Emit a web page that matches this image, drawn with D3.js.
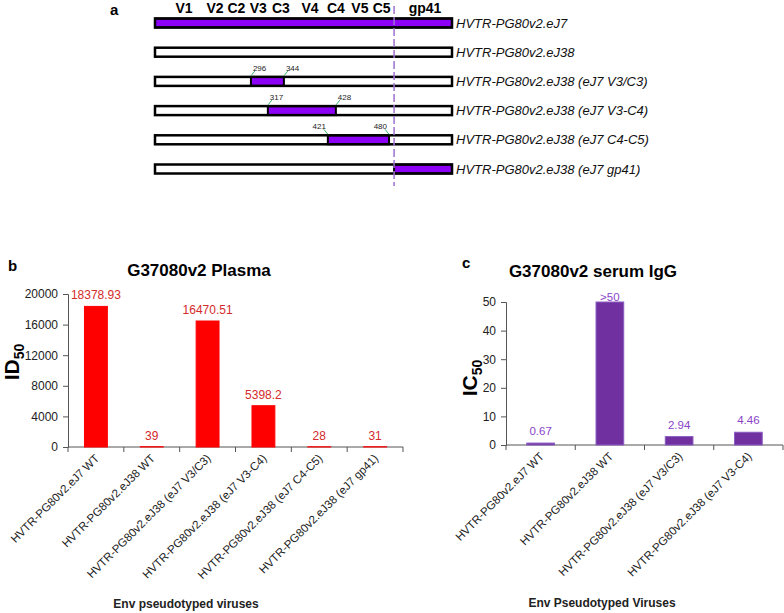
<!DOCTYPE html>
<html>
<head>
<meta charset="utf-8">
<script src="https://cdn.jsdelivr.net/npm/d3@7"></script>
<style>
  body { margin: 0; background: #fff; }
  svg { display: block; font-family: Arial, "Liberation Sans", sans-serif; }
</style>
</head>
<body>
<svg id="chart" width="784" height="613"></svg>
<script>
// panel a: env chimera schematic (schematic units 0-100 along env)
const constructs = ['HVTR-PG80v2.eJ7', 'HVTR-PG80v2.eJ38', 'HVTR-PG80v2.eJ38 (eJ7 V3/C3)',
  'HVTR-PG80v2.eJ38 (eJ7 V3-C4)', 'HVTR-PG80v2.eJ38 (eJ7 C4-C5)', 'HVTR-PG80v2.eJ38 (eJ7 gp41)'];
const swapStart = [0, null, 32.3, 38.0, 58.2, 80.5];
const swapEnd = [100, null, 43.4, 60.9, 78.8, 100];
const swapResidues = [null, null, [296, 344], [317, 428], [421, 480], null];
const regionNames = ['V1', 'V2', 'C2', 'V3', 'C3', 'V4', 'C4', 'V5', 'C5', 'gp41'];
const regionPos = [9.8, 20.2, 27.4, 34.8, 42.4, 52.2, 60.9, 69.0, 76.3, 90.9];
const gp41Start = 80.5;

// panel b: plasma ID50
const plasmaViruses = ['HVTR-PG80v2.eJ7 WT', 'HVTR-PG80v2.eJ38 WT', 'HVTR-PG80v2.eJ38 (eJ7 V3/C3)',
  'HVTR-PG80v2.eJ38 (eJ7 V3-C4)', 'HVTR-PG80v2.eJ38 (eJ7 C4-C5)', 'HVTR-PG80v2.eJ38 (eJ7 gp41)'];
const plasmaID50 = [18378.93, 39, 16470.51, 5398.2, 28, 31];
const plasmaLabels = ['18378.93', '39', '16470.51', '5398.2', '28', '31'];
const plasmaTicks = [0, 4000, 8000, 12000, 16000, 20000];

// panel c: serum IgG IC50
const iggViruses = ['HVTR-PG80v2.eJ7 WT', 'HVTR-PG80v2.eJ38 WT', 'HVTR-PG80v2.eJ38 (eJ7 V3/C3)',
  'HVTR-PG80v2.eJ38 (eJ7 V3-C4)'];
const iggIC50 = [0.67, 50, 2.94, 4.46];
const iggLabels = ['0.67', '>50', '2.94', '4.46'];
const iggTicks = [0, 10, 20, 30, 40, 50];

const svg = d3.select('#chart');

// ---------- panel a ----------
const xa = d3.scaleLinear().domain([0, 100]).range([155, 452]);
const ya = d3.scalePoint().domain(constructs).range([23, 169]);
const barH = 9;
const violet = '#8c00f5';

svg.append('text').attr('x', 110).attr('y', 15)
  .style('font-size', '15px').style('font-weight', 'bold').text('a');

svg.selectAll('text.region')
  .data(regionNames)
  .enter().append('text')
  .attr('class', 'region')
  .attr('x', (d, i) => xa(regionPos[i]))
  .attr('y', 13)
  .attr('text-anchor', 'middle')
  .style('font-size', '14px').style('font-weight', 'bold')
  .text(d => d);

const rows = svg.selectAll('g.row')
  .data(constructs)
  .enter().append('g')
  .attr('class', 'row')
  .attr('transform', d => `translate(0,${ya(d) - barH / 2})`);

rows.append('rect')
  .attr('x', xa(0)).attr('width', xa(100) - xa(0))
  .attr('height', barH)
  .attr('fill', '#fff');

rows.filter((d, i) => swapStart[i] !== null)
  .append('rect')
  .attr('x', d => xa(swapStart[constructs.indexOf(d)]))
  .attr('width', d => xa(swapEnd[constructs.indexOf(d)]) - xa(swapStart[constructs.indexOf(d)]))
  .attr('height', barH)
  .attr('fill', violet)
  .attr('stroke', '#000').attr('stroke-width', 2);

rows.append('rect')
  .attr('x', xa(0)).attr('width', xa(100) - xa(0))
  .attr('height', barH)
  .attr('fill', 'none')
  .attr('stroke', '#000').attr('stroke-width', 2.5);

rows.append('text')
  .attr('x', 456).attr('y', barH / 2 + 4.5)
  .style('font-size', '13px').style('font-style', 'italic')
  .attr('fill', '#111')
  .text(d => d);

// residue boundary labels
rows.each(function (d, i) {
  const res = swapResidues[i];
  if (!res) return;
  const g = d3.select(this);
  const ends = [swapStart[i], swapEnd[i]];
  const toLeft = swapEnd[i] > 75;
  ends.forEach((p, k) => {
    const px = xa(p);
    const dx = toLeft ? -4 : 4;
    g.append('line')
      .attr('x1', px).attr('y1', -1)
      .attr('x2', px + dx).attr('y2', -6)
      .attr('stroke', '#3cb371').attr('stroke-width', 1);
    g.append('text')
      .attr('x', px + (toLeft ? -2 : 2)).attr('y', -6)
      .attr('text-anchor', toLeft ? 'end' : 'start')
      .style('font-size', '8px').attr('fill', '#222')
      .text(res[k]);
  });
});

svg.append('line')
  .attr('x1', xa(gp41Start)).attr('x2', xa(gp41Start))
  .attr('y1', 6).attr('y2', 186)
  .attr('stroke', '#a070d0').attr('stroke-width', 1.5)
  .attr('stroke-dasharray', '8,3');

// ---------- bar chart helper ----------
function barPanel(o) {
  const x = d3.scaleBand().domain(o.cats).range(o.xRange)
    .paddingInner(o.pad).paddingOuter(o.pad / 2);
  const y = d3.scaleLinear().domain(o.yDomain).range(o.yRange);
  const g = svg.append('g');

  g.append('text').attr('x', o.letter[0]).attr('y', o.letter[1])
    .style('font-size', '15px').style('font-weight', 'bold').text(o.letterText);

  g.append('text').attr('x', o.titlePos[0]).attr('y', o.titlePos[1])
    .attr('text-anchor', 'middle')
    .style('font-size', '17px').style('font-weight', 'bold')
    .text(o.title);

  // y axis
  const yAxis = g.append('g')
    .attr('transform', `translate(${o.xRange[0]},0)`)
    .call(d3.axisLeft(y).tickValues(o.ticks).tickSize(5).tickPadding(5).tickFormat(d3.format('d')));
  yAxis.select('.domain').attr('stroke', '#555');
  yAxis.selectAll('.tick line').attr('stroke', '#555');
  yAxis.selectAll('.tick text').style('font-size', '12px').style('font-family', 'Arial, "Liberation Sans", sans-serif').attr('fill', '#222');

  // x axis with boundary ticks
  const x0 = o.yRange[0];
  g.append('line').attr('x1', o.xRange[0]).attr('x2', o.xRange[1])
    .attr('y1', x0).attr('y2', x0).attr('stroke', '#555');
  g.selectAll('line.bt')
    .data(d3.range(o.cats.length + 1))
    .enter().append('line')
    .attr('class', 'bt')
    .attr('x1', i => o.xRange[0] + i * x.step()).attr('x2', i => o.xRange[0] + i * x.step())
    .attr('y1', x0).attr('y2', x0 + 5)
    .attr('stroke', '#555');

  g.selectAll('rect.bar')
    .data(o.cats)
    .enter().append('rect')
    .attr('class', 'bar')
    .attr('x', d => x(d))
    .attr('width', x.bandwidth())
    .attr('y', (d, i) => y(o.values[i]))
    .attr('height', (d, i) => y(0) - y(o.values[i]))
    .attr('fill', o.barColor)
    .attr('stroke', o.barStroke).attr('stroke-width', 1);

  g.selectAll('text.val')
    .data(o.cats)
    .enter().append('text')
    .attr('class', 'val')
    .attr('x', d => x(d) + x.bandwidth() / 2)
    .attr('y', (d, i) => Math.max(y(o.values[i]) - o.valGap, o.yRange[1] - 1))
    .attr('text-anchor', 'middle')
    .style('font-size', o.valSize).attr('fill', o.valColor)
    .text((d, i) => o.labels[i]);

  g.selectAll('text.cat')
    .data(o.cats)
    .enter().append('text')
    .attr('class', 'cat')
    .attr('transform', d => `translate(${x(d) + x.bandwidth() / 2 + 4},${x0 + 12}) rotate(-45)`)
    .attr('text-anchor', 'end')
    .style('font-size', '11.5px').attr('fill', '#222')
    .text(d => d);

  g.append('text').attr('x', o.xTitlePos[0]).attr('y', o.xTitlePos[1])
    .attr('text-anchor', 'middle')
    .style('font-size', '12px').style('font-weight', 'bold').attr('fill', '#222')
    .text(o.xTitle);

  const yl = g.append('text')
    .attr('transform', `translate(${o.yTitlePos[0]},${o.yTitlePos[1]}) rotate(-90)`)
    .attr('text-anchor', 'middle')
    .style('font-weight', 'bold');
  yl.append('tspan').style('font-size', '21px').text(o.yTitle);
  yl.append('tspan').attr('dy', 5).style('font-size', '14px').text('50');
}

barPanel({
  cats: plasmaViruses, values: plasmaID50, labels: plasmaLabels, ticks: plasmaTicks,
  xRange: [68, 403], yDomain: [0, 20000], yRange: [447, 294], pad: 0.59,
  barColor: '#ff0000', barStroke: '#ff0000', valColor: '#d42a2a', valSize: '12px', valGap: 7,
  letter: [8, 271], letterText: 'b',
  title: 'G37080v2 Plasma', titlePos: [199, 276],
  xTitle: 'Env pseudotyped viruses', xTitlePos: [186, 608],
  yTitle: 'ID', yTitlePos: [19, 362]
});

barPanel({
  cats: iggViruses, values: iggIC50, labels: iggLabels, ticks: iggTicks,
  xRange: [506, 783], yDomain: [0, 50], yRange: [445, 302], pad: 0.6,
  barColor: '#7030a0', barStroke: '#8a5cc0', valColor: '#8a44c8', valSize: '11.5px', valGap: 8,
  letter: [462, 268], letterText: 'c',
  title: 'G37080v2 serum IgG', titlePos: [593, 277],
  xTitle: 'Env Pseudotyped Viruses', xTitlePos: [602, 607],
  yTitle: 'IC', yTitlePos: [477, 378]
});
</script>
</body>
</html>
